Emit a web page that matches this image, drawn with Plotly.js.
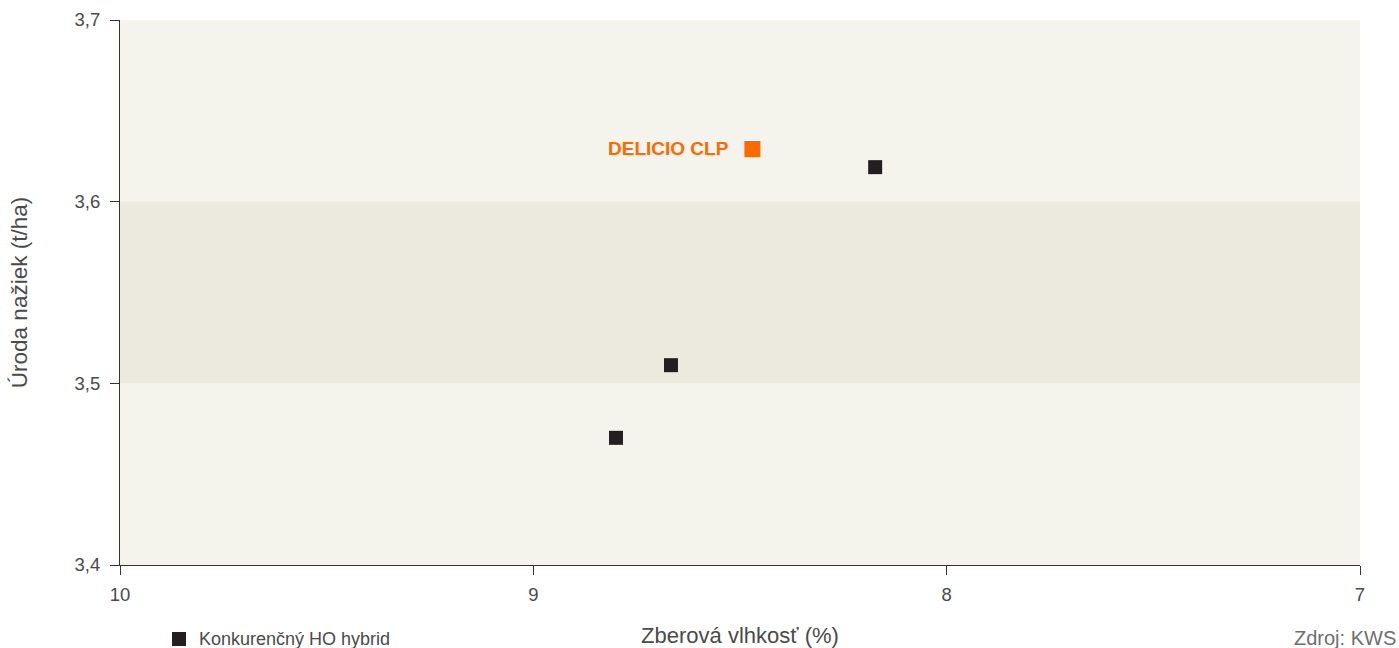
<!DOCTYPE html>
<html>
<head>
<meta charset="utf-8">
<script src="https://cdn.plot.ly/plotly-3.0.1.min.js"></script>
<style>
html,body{margin:0;padding:0;background:#fff;}
#chart{width:1399px;height:648px;}
</style>
</head>
<body>
<div id="chart"></div>
<script>
// Data
const highlightName = ["DELICIO CLP"];
const highlightMoisture = [8.47];
const highlightYield = [3.629];

const competitorName = "Konkurenčný HO hybrid";
const competitorMoisture = [8.173, 8.667, 8.80];
const competitorYield = [3.619, 3.51, 3.47];

const xTitle = "Zberová vlhkosť (%)";
const yTitle = "Úroda nažiek (t/ha)";
const sourceText = "Zdroj: KWS";
const bandRange = [3.5, 3.6];

const fontFam = "Liberation Sans, Arial, sans-serif";
const textCol = "#4a4a4a";

const traces = [
  {
    x: competitorMoisture, y: competitorYield, name: competitorName,
    type: "scatter", mode: "markers",
    marker: {symbol: "square", size: 14, color: "#231f20"},
    showlegend: false, hoverinfo: "skip"
  },
  {
    x: highlightMoisture, y: highlightYield, name: highlightName[0],
    type: "scatter", mode: "markers",
    marker: {symbol: "square", size: 16, color: "#ff6a00"},
    showlegend: false, hoverinfo: "skip"
  }
];

const layout = {
  width: 1399, height: 648,
  margin: {l: 120, r: 39, t: 20, b: 83},
  paper_bgcolor: "#ffffff",
  plot_bgcolor: "#f4f3ec",
  separators: ", ",
  showlegend: false,
  font: {family: fontFam, size: 16, color: textCol},
  xaxis: {
    range: [10, 7], dtick: 1, tick0: 7,
    showgrid: false, zeroline: false,
    showline: true, linecolor: "#333333", linewidth: 1,
    ticks: "outside", ticklen: 9, tickcolor: "#333333",
    ticklabelstandoff: 4,
    tickfont: {size: 18.5, color: textCol},
    title: {text: xTitle, font: {size: 22, color: textCol}, standoff: 26}
  },
  yaxis: {
    range: [3.4, 3.7], dtick: 0.1, tick0: 3.4, tickformat: ".1f",
    showgrid: false, zeroline: false,
    showline: true, linecolor: "#333333", linewidth: 1,
    ticks: "outside", ticklen: 9, tickcolor: "#333333",
    ticklabelstandoff: 6,
    tickfont: {size: 18.5, color: textCol},
    title: {text: yTitle, font: {size: 22.5, color: textCol}, standoff: 40}
  },
  shapes: [
    {
      type: "rect", xref: "paper", x0: 0, x1: 1, yref: "y",
      y0: bandRange[0], y1: bandRange[1],
      fillcolor: "#ece9de", line: {width: 0}, layer: "below"
    },
    {
      // legend swatch
      type: "rect", xref: "paper", yref: "paper",
      x0: (172 - 120) / 1240, x1: (186 - 120) / 1240,
      y0: -(632 - 565) / 545, y1: -(646 - 565) / 545,
      fillcolor: "#231f20", line: {width: 0}
    }
  ],
  annotations: [
    {
      text: highlightName[0], xref: "x", yref: "y",
      x: highlightMoisture[0], y: highlightYield[0],
      xanchor: "right", yanchor: "middle", xshift: -21, showarrow: false,
      font: {family: fontFam, size: 19, color: "#ff6a00", weight: "bold"}
    },
    {
      text: competitorName, xref: "paper", yref: "paper",
      x: (197 - 120) / 1240, y: -(639 - 565) / 545,
      xanchor: "left", yanchor: "middle", showarrow: false,
      font: {size: 18, color: textCol}
    },
    {
      text: sourceText, xref: "paper", yref: "paper",
      x: (1398 - 120) / 1240, y: -(638 - 565) / 545,
      xanchor: "right", yanchor: "middle", showarrow: false,
      font: {size: 20, color: "#6e6e6e"}
    }
  ]
};

Plotly.newPlot("chart", traces, layout, {displayModeBar: false, staticPlot: true});
</script>
</body>
</html>
